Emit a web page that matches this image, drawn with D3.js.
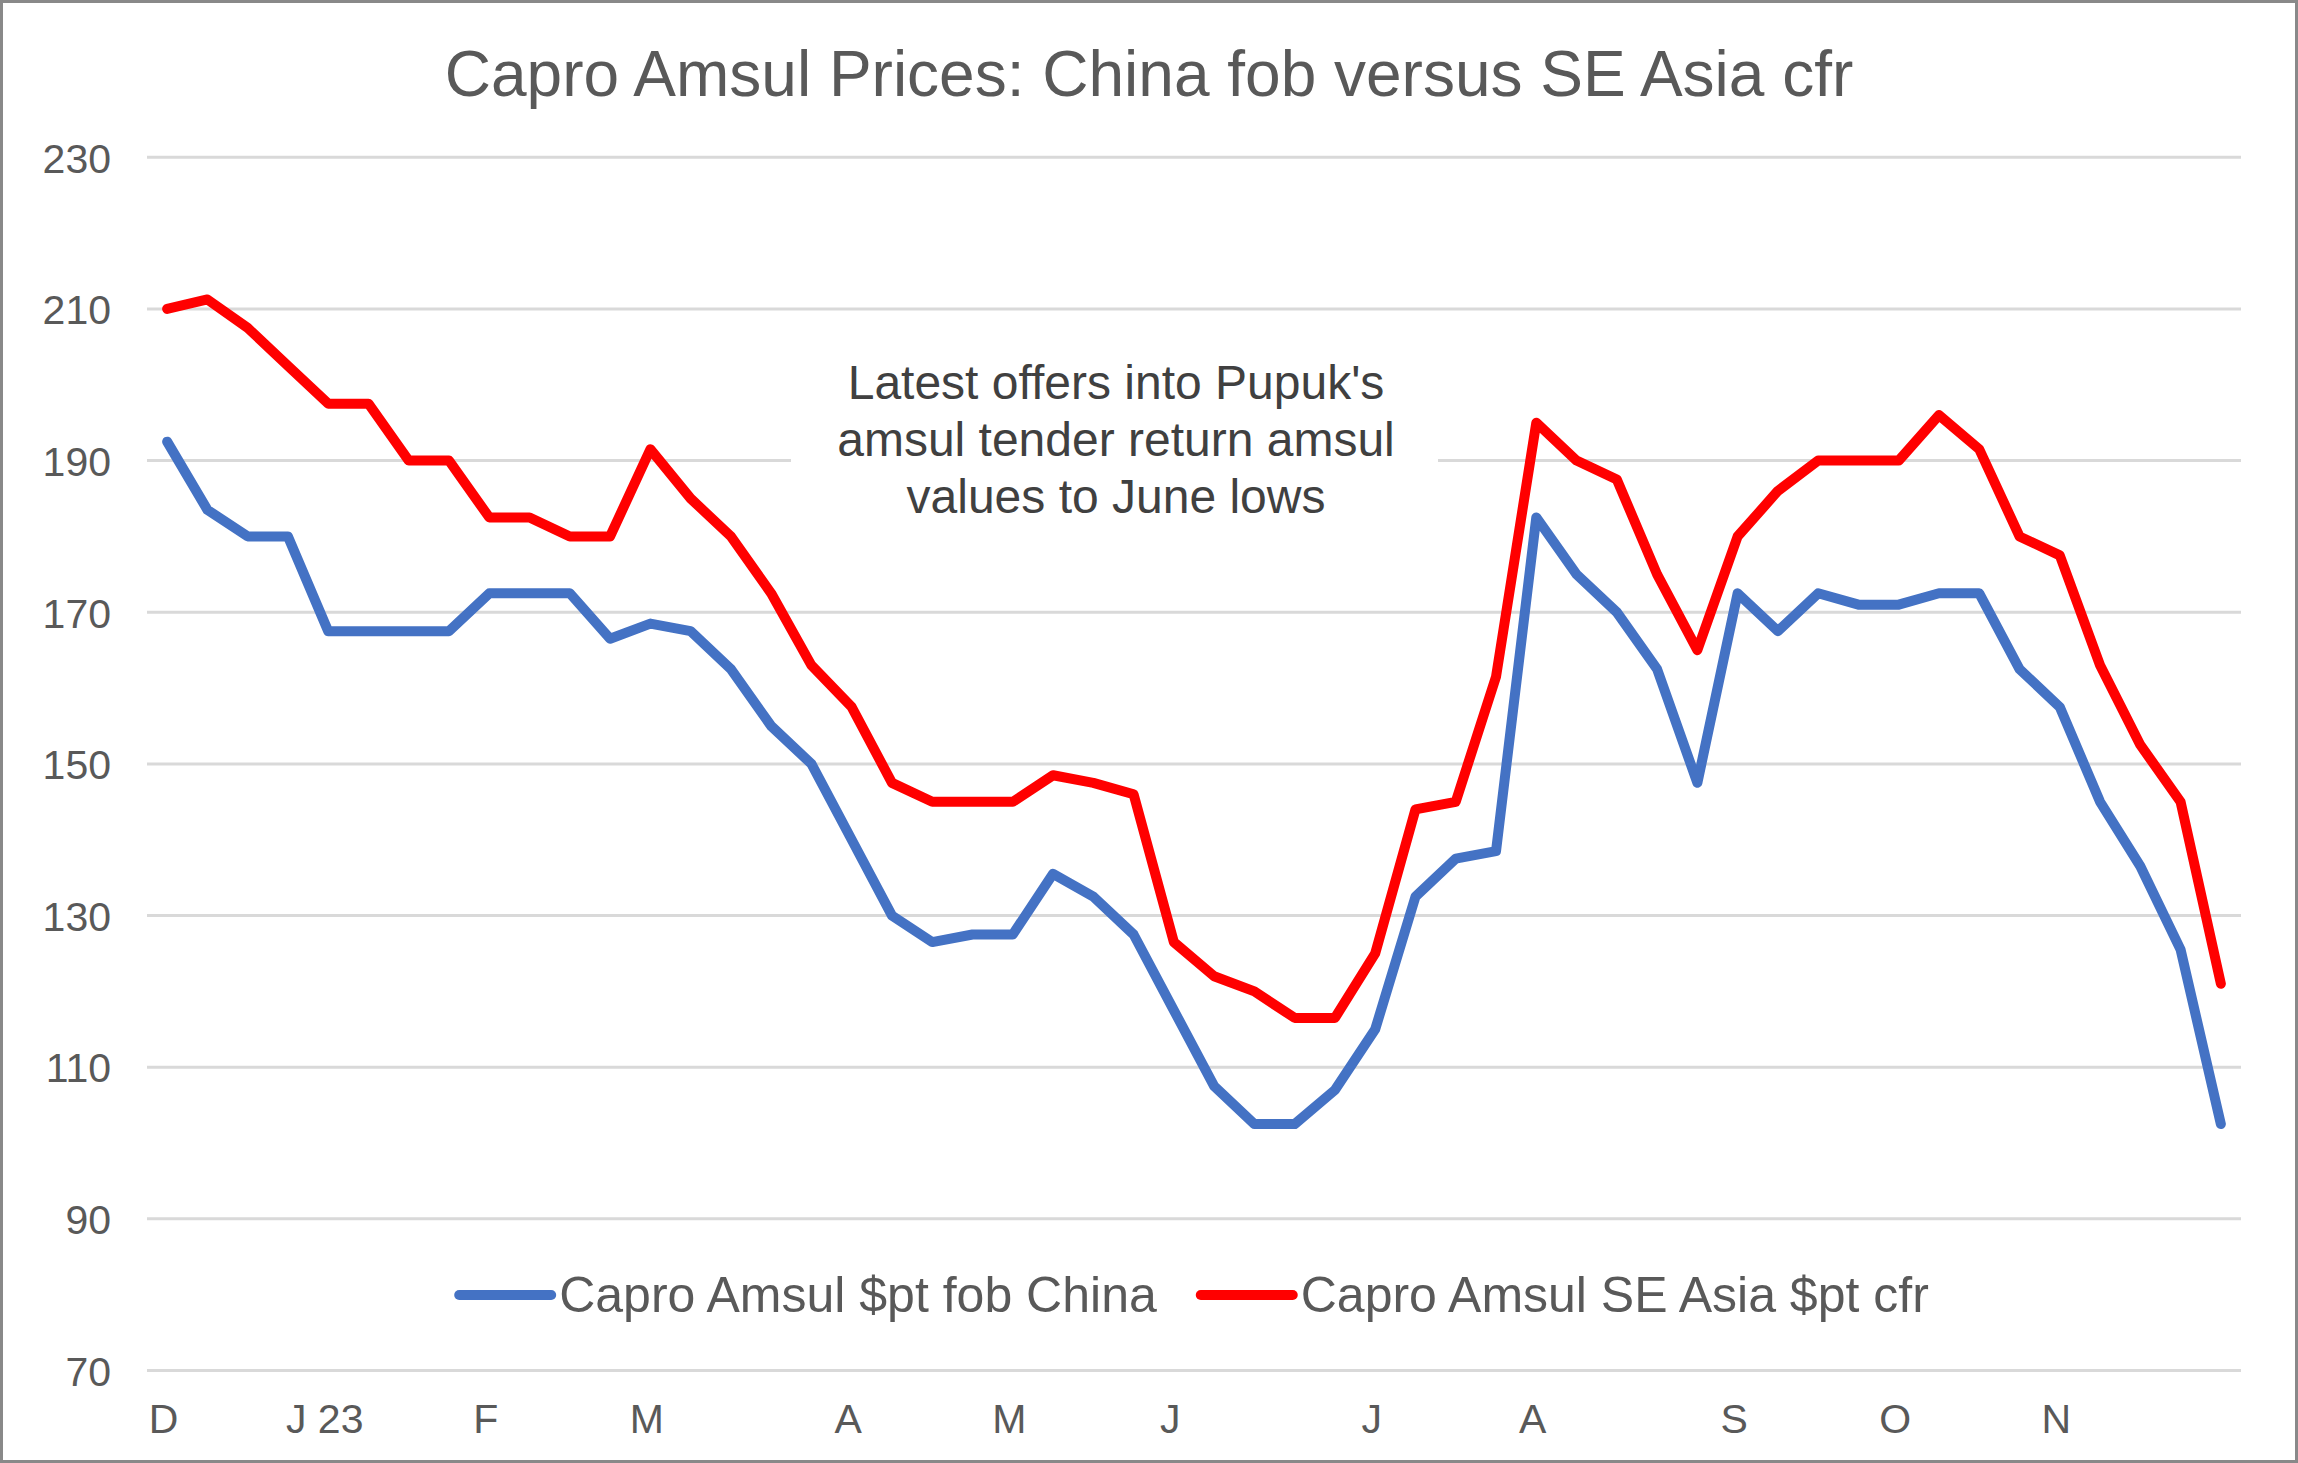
<!DOCTYPE html>
<html>
<head>
<meta charset="utf-8">
<script src="https://cdn.jsdelivr.net/npm/d3@7"></script>
<style>
  html, body { margin: 0; padding: 0; background: #fff; }
  svg { display: block; font-family: "Liberation Sans", Arial, sans-serif; }
</style>
</head>
<body>
<div id="chart"></div>
<script>
// Weekly prices, Dec 2022 -> Nov 2023 (52 weeks)
const weeks = d3.range(52);

const fobChina = [
  192.5, 183.5, 180, 180, 167.5, 167.5, 167.5, 167.5, 172.5, 172.5,
  172.5, 166.5, 168.5, 167.5, 162.5, 155, 150, 140, 130, 126.5,
  127.5, 127.5, 135.5, 132.5, 127.5, 117.5, 107.5, 102.5, 102.5, 107,
  115, 132.5, 137.5, 138.5, 182.5, 175, 170, 162.5, 147.5, 172.5,
  167.5, 172.5, 171, 171, 172.5, 172.5, 162.5, 157.5, 145, 136.5,
  125.5, 102.5
];

const cfrSEAsia = [
  210, 211.25, 207.5, 202.5, 197.5, 197.5, 190, 190, 182.5, 182.5,
  180, 180, 191.5, 185, 180, 172.5, 163, 157.5, 147.5, 145,
  145, 145, 148.5, 147.5, 146, 126.5, 122, 120, 116.5, 116.5,
  125, 144, 145, 161.5, 195, 190, 187.5, 175, 165, 180,
  186, 190, 190, 190, 196, 191.5, 180, 177.5, 163, 152.5,
  145, 121
];

const seriesNames = ["Capro Amsul $pt fob China", "Capro Amsul SE Asia $pt cfr"];
const seriesColors = ["#4472C4", "#FF0000"];

const tickIndex = [0, 4, 8, 12, 17, 21, 25, 30, 34, 39, 43, 47];
const tickText = ["D", "J 23", "F", "M", "A", "M", "J", "J", "A", "S", "O", "N"];

const yTicks = [70, 90, 110, 130, 150, 170, 190, 210, 230];

const titleText = "Capro Amsul Prices: China fob versus SE Asia cfr";
const noteLines = [
  "Latest offers into Pupuk's",
  "amsul tender return amsul",
  "values to June lows"
];

// ---- layout ----
const W = 2298, H = 1463;
const plot = { left: 147, right: 2241, top: 157.3, bottom: 1370.5 };
const textGrey = "#595959";

const svg = d3.select("#chart").append("svg")
  .attr("width", W)
  .attr("height", H);

svg.append("rect")
  .attr("x", 1.5).attr("y", 1.5)
  .attr("width", W - 3).attr("height", H - 3)
  .attr("fill", "#fff")
  .attr("stroke", "#898989")
  .attr("stroke-width", 3);

const x = d3.scalePoint()
  .domain(weeks)
  .range([plot.left, plot.right])
  .padding(0.5);

const y = d3.scaleLinear()
  .domain([70, 230])
  .range([plot.bottom, plot.top]);

// gridlines
svg.append("g")
  .selectAll("line")
  .data(yTicks)
  .join("line")
  .attr("x1", plot.left)
  .attr("x2", plot.right)
  .attr("y1", (d) => y(d))
  .attr("y2", (d) => y(d))
  .attr("stroke", "#D9D9D9")
  .attr("stroke-width", 3);

// y axis labels
const yAxis = svg.append("g")
  .attr("transform", `translate(${plot.left - 36},0)`)
  .call(d3.axisLeft(y).tickValues(yTicks).tickSize(0).tickPadding(0));
yAxis.select(".domain").remove();
yAxis.selectAll("text")
  .attr("font-size", 41)
  .attr("font-family", "Liberation Sans, Arial, sans-serif")
  .attr("fill", textGrey)
  .attr("dy", "0.36em");

// x axis labels
const xAxis = svg.append("g")
  .attr("transform", `translate(0,${plot.bottom})`)
  .call(
    d3.axisBottom(x)
      .tickValues(tickIndex)
      .tickFormat((d) => tickText[tickIndex.indexOf(d)])
      .tickSize(0)
      .tickPadding(0)
  );
xAxis.select(".domain").remove();
xAxis.selectAll("text")
  .attr("font-size", 41)
  .attr("font-family", "Liberation Sans, Arial, sans-serif")
  .attr("fill", textGrey)
  .attr("dx", -4)
  .attr("dy", 0)
  .attr("y", 62);

// annotation box (white behind text, breaks the gridline)
const note = svg.append("g");
note.append("rect")
  .attr("x", 791).attr("y", 345)
  .attr("width", 647).attr("height", 190)
  .attr("fill", "#fff");
note.selectAll("text")
  .data(noteLines)
  .join("text")
  .attr("x", 1116)
  .attr("y", (d, i) => 399 + i * 57)
  .attr("text-anchor", "middle")
  .attr("font-size", 48)
  .attr("fill", "#404040")
  .text((d) => d);

// lines
const line = d3.line()
  .x((d, i) => x(weeks[i]))
  .y((d) => y(d));

[fobChina, cfrSEAsia].forEach((values, k) => {
  svg.append("path")
    .datum(values)
    .attr("d", line)
    .attr("fill", "none")
    .attr("stroke", seriesColors[k])
    .attr("stroke-width", 10)
    .attr("stroke-linejoin", "round")
    .attr("stroke-linecap", "round");
});

// title
svg.append("text")
  .attr("x", W / 2)
  .attr("y", 96)
  .attr("text-anchor", "middle")
  .attr("font-size", 64)
  .attr("fill", textGrey)
  .text(titleText);

// legend
const legend = svg.append("g");
const items = legend.selectAll("g")
  .data(seriesNames)
  .join("g");

items.append("line")
  .attr("x1", 0).attr("x2", 92)
  .attr("y1", 0).attr("y2", 0)
  .attr("stroke", (d, i) => seriesColors[i])
  .attr("stroke-width", 10)
  .attr("stroke-linecap", "round");

items.append("text")
  .attr("x", 100)
  .attr("y", 17)
  .attr("font-size", 50)
  .attr("fill", textGrey)
  .text((d) => d);

let offset = 0;
items.each(function () {
  const g = d3.select(this);
  g.attr("transform", `translate(${offset},0)`);
  offset += 100 + g.select("text").node().getComputedTextLength() + 44;
});
const legendWidth = offset - 44;
legend.attr(
  "transform",
  `translate(${(plot.left + plot.right) / 2 - legendWidth / 2},1295)`
);
</script>
</body>
</html>
